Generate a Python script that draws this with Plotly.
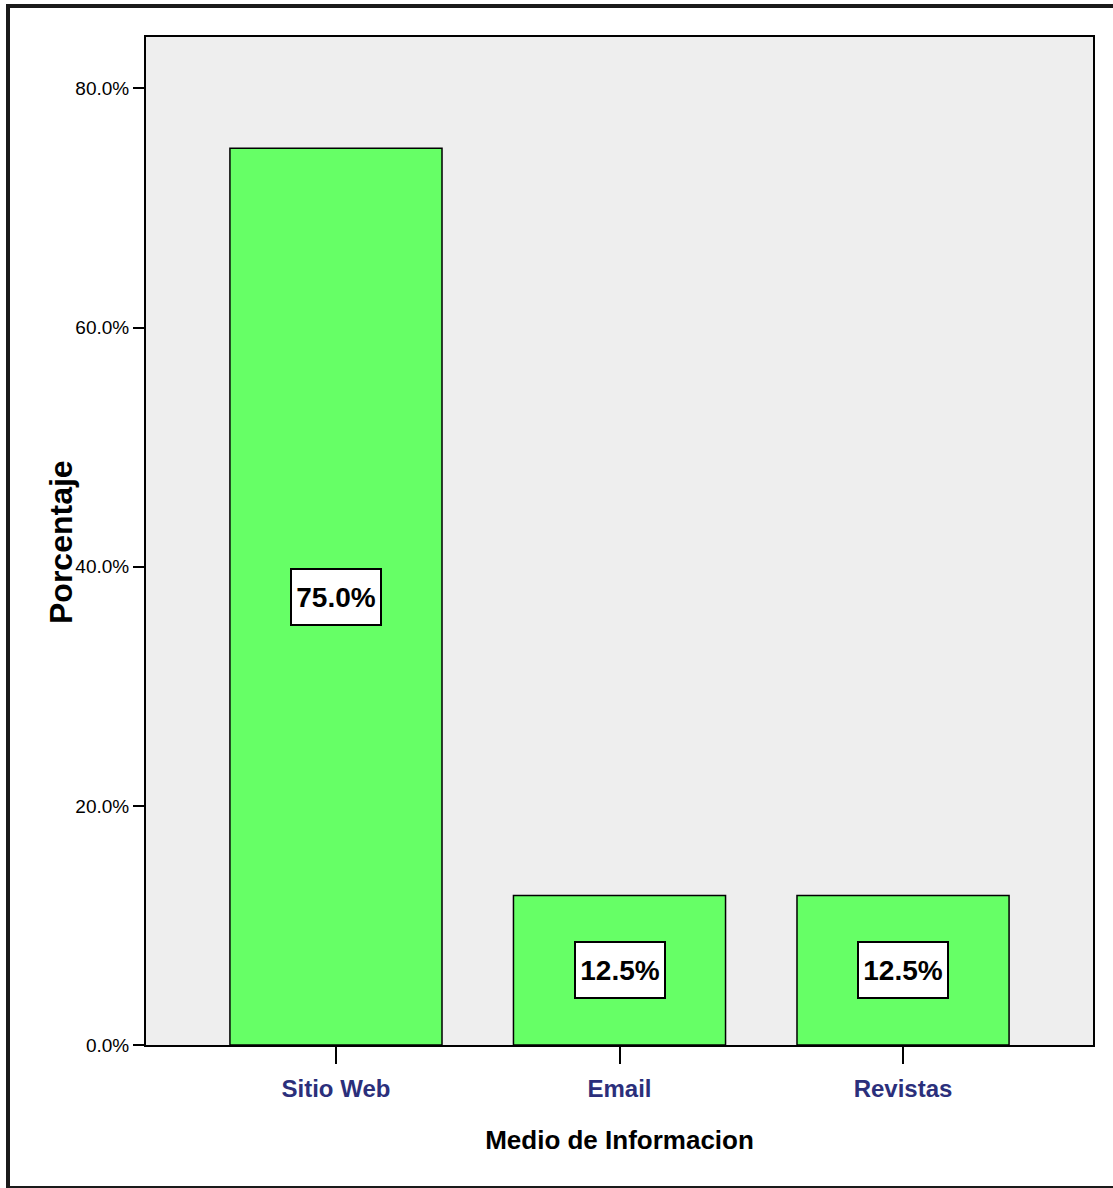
import plotly.graph_objects as go

# Survey data: share of respondents per information channel
categories = ["Sitio Web", "Email", "Revistas"]
percentages = [75.0, 12.5, 12.5]
y_ticks = [0, 20, 40, 60, 80]
y_tick_text = ["0.0%", "20.0%", "40.0%", "60.0%", "80.0%"]

W, H = 1113, 1188
ML, MR, MT, MB = 146, 20, 37, 143
PW, PH = W - ML - MR, H - MT - MB

FONT = "Liberation Sans, Arial, sans-serif"


def px_x(p):
    return (p - ML) / PW


def px_y(p):
    return 1 - (p - MT) / PH


fig = go.Figure()
fig.add_trace(go.Bar(
    x=categories,
    y=percentages,
    marker=dict(color="#66ff66", line=dict(color="black", width=1.5)),
    hoverinfo="skip",
))

# value labels boxed at half the bar height
for cat, val in zip(categories, percentages):
    fig.add_annotation(
        x=cat, y=val / 2, text=f"<b>{val:.1f}%</b>", showarrow=False,
        font=dict(family=FONT, size=28, color="black"),
        width=88, height=54,
        bgcolor="white", bordercolor="black", borderwidth=2, borderpad=0,
    )

# vertical axis title
fig.add_annotation(
    xref="paper", yref="paper", x=px_x(61), y=px_y(542),
    text="<b>Porcentaje</b>", textangle=-90, showarrow=False,
    font=dict(family=FONT, size=32, color="black"),
    xanchor="center", yanchor="middle",
)

# outer frame of the figure
fig.add_shape(
    type="rect", xref="paper", yref="paper",
    x0=px_x(8), x1=px_x(1125), y0=px_y(1188), y1=px_y(6),
    line=dict(color="#1a1a1a", width=4), fillcolor="rgba(0,0,0,0)", layer="below",
)

fig.update_layout(
    width=W, height=H,
    margin=dict(l=ML, r=MR, t=MT, b=MB),
    paper_bgcolor="white", plot_bgcolor="#eeeeee",
    bargap=0.252, showlegend=False,
)
fig.update_xaxes(
    range=[-0.67, 2.67], showgrid=False, zeroline=False,
    showline=True, linecolor="black", linewidth=2, mirror=True,
    ticks="outside", ticklen=17, tickwidth=2, tickcolor="black",
    ticklabelstandoff=4,
    tickfont=dict(family=FONT, size=24, color="#2b2f7b", weight="bold"),
    title=dict(text="<b>Medio de Informacion</b>", font=dict(family=FONT, size=26, color="black"), standoff=30),
)
fig.update_yaxes(
    range=[0, 84.3], showgrid=False, zeroline=False,
    showline=True, linecolor="black", linewidth=2, mirror=True,
    ticks="outside", ticklen=11, tickwidth=2, tickcolor="black",
    tickvals=y_ticks, ticktext=y_tick_text,
    tickfont=dict(family=FONT, size=19, color="black"),
)

fig.write_html("out.html")
